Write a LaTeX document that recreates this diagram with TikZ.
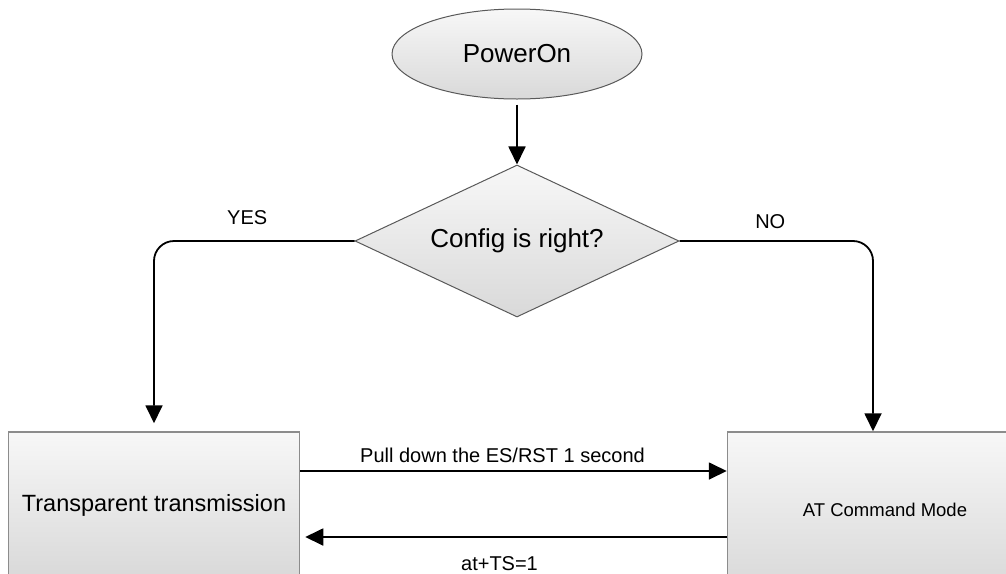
\documentclass[tikz,border=0pt]{standalone}
\usepackage{fontspec}
\setmainfont{Liberation Sans}
\usetikzlibrary{arrows.meta, shapes.geometric, positioning}

\begin{document}
\begin{tikzpicture}[x=1pt, y=-1pt,
  flow/.style={line width=1.8pt, -{Triangle[length=18pt,width=17pt]}},
  greyfill/.style={top color=white!97!black, bottom color=black!15},
  startnode/.style={ellipse, draw=black!65, line width=1pt, greyfill, inner sep=0pt, font=\fontsize{26}{30}\selectfont},
  asknode/.style={diamond, draw=black!65, line width=1pt, greyfill, inner sep=0pt, aspect=2.13, font=\fontsize{26}{30}\selectfont},
  modenode/.style={rectangle, draw=black!45, line width=1.5pt, greyfill, inner sep=0pt, minimum width=291pt},
  lbl/.style={font=\fontsize{20}{24}\selectfont}]

\useasboundingbox (0,0) rectangle (1006,573);
\clip (0,0) rectangle (1006,573);

\node[startnode, minimum width=250pt, minimum height=90pt] (power) at (517,54) {PowerOn};
\node[asknode, minimum width=324pt, minimum height=152pt] (config) at (517,241) {Config is right?};

\node[modenode, minimum height=146pt, font=\fontsize{23.5}{28}\selectfont] (transp) at (154,505) {Transparent transmission};
\node[modenode, minimum height=156pt, font=\fontsize{18.5}{22}\selectfont] (atmode) at (873,510) {\hspace*{24pt}AT Command Mode};

\draw[flow, shorten <=5pt] (power) -- (config);

\draw[flow, rounded corners=20pt, shorten >=8pt] (config.west) -| node[lbl, pos=0.25, above=12.5pt, xshift=-7pt] (yes) {YES} (transp.north);
\draw[flow, rounded corners=20pt] (config.east) -| node[lbl, pos=0.25, above=8.5pt, xshift=-6pt] (no) {NO} (atmode.north);

\draw[flow] ([yshift=34pt]transp.east) coordinate (p1) -- node[lbl, above=4pt, xshift=-11pt] (pull) {Pull down the ES/RST 1 second} (p1 -| atmode.west);
\draw[flow, shorten >=5pt] ([yshift=-27pt]atmode.west) coordinate (q1) -- node[lbl, below=15pt, xshift=-14pt] (atts) {at+TS=1} (q1 -| transp.east);

\end{tikzpicture}
\end{document}
